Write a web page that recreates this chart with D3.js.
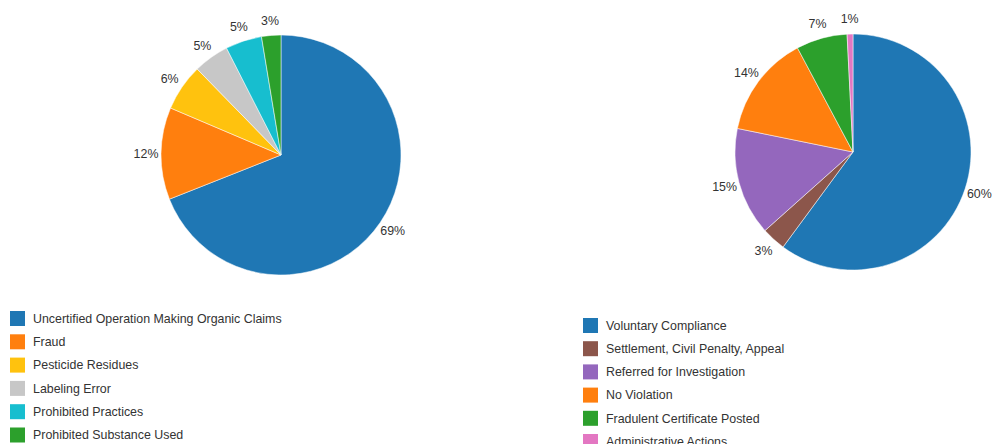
<!DOCTYPE html>
<html>
<head>
<meta charset="utf-8">
<script src="https://cdn.jsdelivr.net/npm/d3@7"></script>
<style>
  body { margin: 0; background: #fff; }
  text { font-family: "Liberation Sans", Arial, sans-serif; font-size: 12.4px; fill: #333; }
</style>
</head>
<body>
<div id="vis"></div>
<script>
// left pie: complaint types (percent of total)
var leftLabels = ["Uncertified Operation Making Organic Claims", "Fraud", "Pesticide Residues",
                  "Labeling Error", "Prohibited Practices", "Prohibited Substance Used"];
var leftValues = [69.0, 12.4, 6.3, 4.8, 4.9, 2.6];
var leftColors = ["#1f77b4", "#ff7f0e", "#ffc20e", "#c7c7c7", "#17becf", "#2ca02c"];

// right pie: outcomes (percent of total)
var rightLabels = ["Voluntary Compliance", "Settlement, Civil Penalty, Appeal", "Referred for Investigation",
                   "No Violation", "Fradulent Certificate Posted", "Administrative Actions"];
var rightValues = [60.1, 3.3, 14.8, 14.0, 7.0, 0.8];
var rightColors = ["#1f77b4", "#8c564b", "#9467bd", "#ff7f0e", "#2ca02c", "#e377c2"];

var w = 992;
var h = 444;

var svg = d3.select("#vis")
            .append("svg")
            .attr("width", w)
            .attr("height", h);

function drawPie(values, colors, cx, cy, r) {
  var pie = d3.pie().sort(null).value(d => d);
  var arcs = pie(values);
  var arc = d3.arc().innerRadius(0).outerRadius(r);
  var labelArc = d3.arc().innerRadius(r + 15).outerRadius(r + 15);

  var g = svg.append("g").attr("transform", `translate(${cx},${cy})`);

  g.selectAll("path")
   .data(arcs)
   .enter()
   .append("path")
   .attr("d", arc)
   .attr("fill", (d, i) => colors[i])
   .attr("stroke", "#fff")
   .attr("stroke-width", 0.5);

  var total = d3.sum(values);
  g.selectAll("text")
   .data(arcs)
   .enter()
   .append("text")
   .attr("transform", d => `translate(${labelArc.centroid(d)})`)
   .attr("text-anchor", "middle")
   .attr("dy", "0.35em")
   .text(d => Math.round(d.value / total * 100) + "%");
}

function drawLegend(labels, colors, x, y, step) {
  var g = svg.append("g").attr("transform", `translate(${x},${y})`);
  var item = g.selectAll("g")
              .data(labels)
              .enter()
              .append("g")
              .attr("transform", (d, i) => `translate(0,${i * step})`);
  item.append("rect")
      .attr("x", 0).attr("y", -7.5)
      .attr("width", 15).attr("height", 15)
      .attr("fill", (d, i) => colors[i]);
  item.append("text")
      .attr("x", 23)
      .attr("dy", "0.35em")
      .text(d => d);
}

drawPie(leftValues, leftColors, 281, 155, 120);
drawPie(rightValues, rightColors, 853, 152, 118);

drawLegend(leftLabels, leftColors, 10, 318.5, 23.3);
drawLegend(rightLabels, rightColors, 583, 325.5, 23.2);
</script>
</body>
</html>
